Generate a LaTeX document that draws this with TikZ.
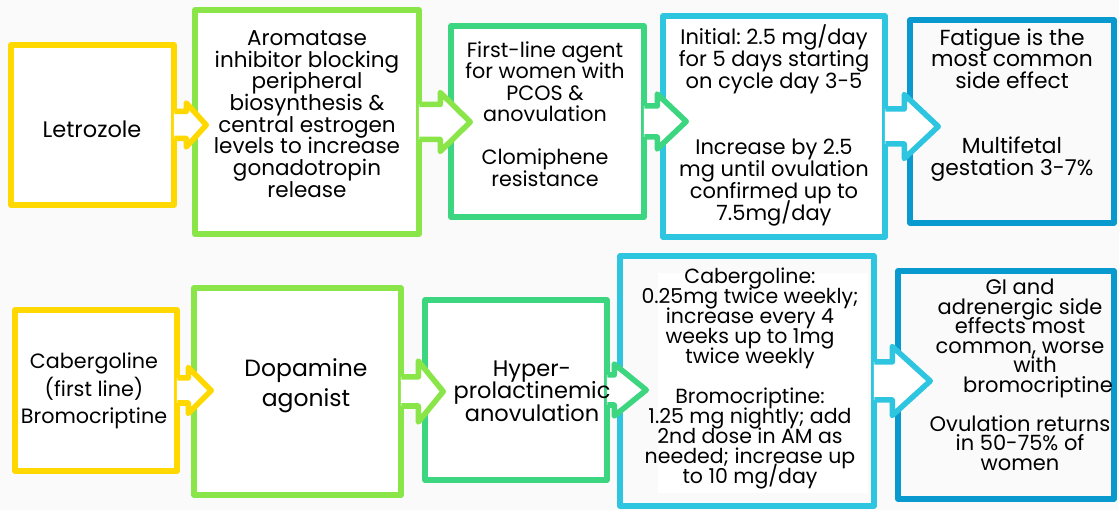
\documentclass[tikz,border=0pt]{standalone}
\usepackage{fontspec}
\setmainfont{Poppins}
\usetikzlibrary{calc}
\frenchspacing
\definecolor{StepYellow}{RGB}{255,216,0}
\definecolor{StepLime}{RGB}{138,230,72}
\definecolor{StepGreen}{RGB}{61,214,128}
\definecolor{StepCyan}{RGB}{46,197,224}
\definecolor{StepBlue}{RGB}{8,153,206}
\definecolor{PageGrey}{RGB}{250,250,250}
\newcommand{\tightlines}{\lineskiplimit=-30pt\relax}

% arrow tab from box #2 into box #3: colour, from, to, shaft half, head half, head base, tip
\newcommand{\steptab}[7]{%
  \fill[white] let \p1=(#2.east), \p2=(#3.west) in
    ({\x1-3pt},{\y1+#4pt}) -- ({\x2+#6pt},{\y1+#4pt}) -- ({\x2+#6pt},{\y1+#5pt})
    -- ({\x2+#7pt},\y1) -- ({\x2+#6pt},{\y1-#5pt}) -- ({\x2+#6pt},{\y1-#4pt})
    -- ({\x1-3pt},{\y1-#4pt}) -- cycle;
  \draw[tabline, draw=#1] let \p1=(#2.east), \p2=(#3.west) in
    ({\x1-2.5pt},{\y1+#4pt}) -- ({\x2+#6pt},{\y1+#4pt}) -- ({\x2+#6pt},{\y1+#5pt})
    -- ({\x2+#7pt},\y1) -- ({\x2+#6pt},{\y1-#5pt}) -- ({\x2+#6pt},{\y1-#4pt})
    -- ({\x1-2.5pt},{\y1-#4pt});
}

\begin{document}
\begin{tikzpicture}[x=1pt, y=-1pt,
        stepbox/.style={draw, fill=white, line width=5.5pt, line join=round, inner sep=0pt},
        tabline/.style={line width=5.5pt, line join=round},
        steptext/.style={align=center, inner sep=0pt},
        fs/.style 2 args={font=\fontsize{#1}{#2}\selectfont\tightlines}
]
    \fill[PageGrey] (0,0) rectangle (1119,510);
    \useasboundingbox (0,0) rectangle (1119,510);

    % letrozole row
    \node[stepbox, draw=StepYellow, minimum width=163pt, minimum height=160pt] (l1) at (92.5,125) {};
    \node[stepbox, draw=StepLime, minimum width=224pt, minimum height=224pt] (l2) at (307,122) {};
    \node[stepbox, draw=StepGreen, minimum width=193pt, minimum height=191pt] (l3) at (547.5,121.5) {};
    \node[stepbox, draw=StepCyan, minimum width=222pt, minimum height=221pt] (l4) at (774,126.5) {};
    \node[stepbox, draw=StepBlue, fill=PageGrey, minimum width=204pt, minimum height=203pt] (l5) at (1012,121.5) {};

    % dopamine agonist row
    \node[stepbox, draw=StepYellow, minimum width=162pt, minimum height=161pt] (d1) at (96,390.5) {};
    \node[stepbox, draw=StepLime, minimum width=207pt, minimum height=207pt] (d2) at (297.5,391.5) {};
    \node[stepbox, draw=StepGreen, minimum width=182pt, minimum height=180pt] (d3) at (516,390) {};
    \node[stepbox, draw=StepCyan, fill=PageGrey, minimum width=254pt, minimum height=250pt,
        path picture={\fill[white] ([shift={(38pt,13pt)}]path picture bounding box.south west)
            rectangle ([shift={(-6pt,-17pt)}]path picture bounding box.north east);}] (d4) at (747,381) {};
    \node[stepbox, draw=StepBlue, fill=PageGrey, minimum width=216pt, minimum height=228pt] (d5) at (1006,385) {};

    \steptab{StepYellow}{l1}{l2}{13.5}{22}{-6}{14}
    \steptab{StepLime}{l2}{l3}{17.5}{29.5}{-8}{22}
    \steptab{StepGreen}{l3}{l4}{15.5}{27.5}{-3}{26}
    \steptab{StepCyan}{l4}{l5}{17.5}{32}{-3}{31}
    \steptab{StepYellow}{d1}{d2}{12.5}{23}{-3}{20}
    \steptab{StepLime}{d2}{d3}{14.5}{30.5}{-4}{21}
    \steptab{StepGreen}{d3}{d4}{15}{26}{-3}{29}
    \steptab{StepCyan}{d4}{d5}{19}{34.5}{-3}{35}

    \node[steptext, fs={22.5}{22}] (l1t) at (92,129) {Letrozole};
    \node[steptext, fs={21.5}{21.7}] (l2t) at (307,114) {Aromatase\\inhibitor blocking\\peripheral\\biosynthesis \&\\central estrogen\\levels to increase\\gonadotropin\\release};
    \node[steptext, fs={20.7}{21.5}] (l3t) at (545,114) {First-line agent\\for women with\\PCOS \&\\anovulation\\[21.5pt]Clomiphene\\resistance};
    \node[steptext, fs={21}{22}] (l4t) at (774,125) {Initial: 2.5 mg/day\\for 5 days starting\\on cycle day 3-5\\[44pt]Increase by 2.5\\mg until ovulation\\confirmed up to\\7.5mg/day};
    \node[steptext, fs={21.8}{21.7}] (l5t) at (1012,105) {Fatigue is the\\most common\\side effect\\[43.4pt]Multifetal\\gestation 3-7\%};

    \node[steptext, fs={20.7}{27.5}] (d1t) at (94,391) {Cabergoline\\(first line)\\Bromocriptine};
    \node[steptext, fs={23.5}{30}] (d2t) at (306,386) {Dopamine\\agonist};
    \node[steptext, fs={22.5}{22.5}] (d3t) at (532,391) {Hyper-\\prolactinemic\\anovulation};
    \node[steptext, fs={20.5}{20}] (d4t) at (750,378) {Cabergoline:\\0.25mg twice weekly;\\increase every 4\\weeks up to 1mg\\twice weekly\\[20pt]Bromocriptine:\\1.25 mg nightly; add\\2nd dose in AM as\\needed; increase up\\to 10 mg/day};
    \node[steptext, fs={21}{19.5}] (d5t) at (1020,375) {GI and\\adrenergic side\\effects most\\common, worse\\\hspace*{30pt}with\\\hspace*{36pt}bromocriptine\\[19.5pt]Ovulation returns\\in 50-75\% of\\women};
\end{tikzpicture}
\end{document}
